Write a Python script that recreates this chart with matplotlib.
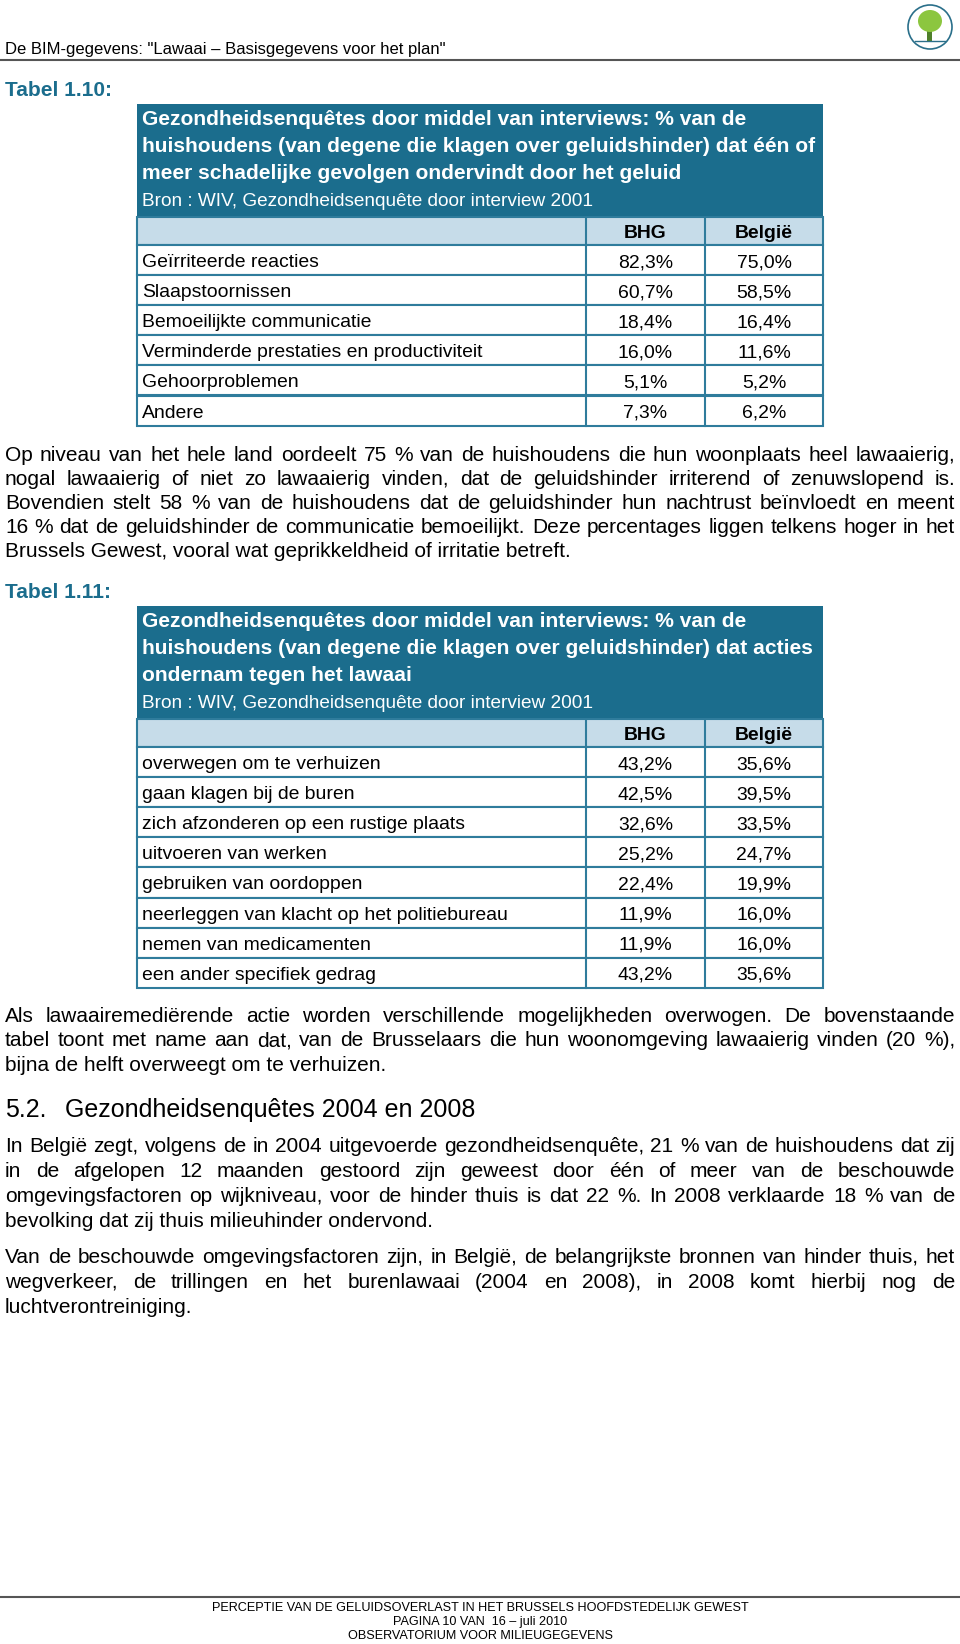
import matplotlib
matplotlib.use('Agg')
import matplotlib.pyplot as plt
from matplotlib.patches import Rectangle, Circle, Ellipse

plt.rcParams['font.family'] = ['Liberation Sans', 'DejaVu Sans']

W, H = 960, 1644
TEAL = '#1b6d8d'
LIGHT = '#c6dce9'
EDGE = '#2f7c9c'

page_header = 'De BIM-gegevens: "Lawaai – Basisgegevens voor het plan"'
col_names = ['BHG', 'België']
source = 'Bron : WIV, Gezondheidsenquête door interview 2001'

t1_label = 'Tabel 1.10:'
t1_title = ['Gezondheidsenquêtes door middel van interviews: % van de',
            'huishoudens (van degene die klagen over geluidshinder) dat één of',
            'meer schadelijke gevolgen ondervindt door het geluid']
t1_rows = ['Geïrriteerde reacties', 'Slaapstoornissen', 'Bemoeilijkte communicatie',
           'Verminderde prestaties en productiviteit', 'Gehoorproblemen', 'Andere']
t1_bhg = [82.3, 60.7, 18.4, 16.0, 5.1, 7.3]
t1_bel = [75.0, 58.5, 16.4, 11.6, 5.2, 6.2]

t2_label = 'Tabel 1.11:'
t2_title = ['Gezondheidsenquêtes door middel van interviews: % van de',
            'huishoudens (van degene die klagen over geluidshinder) dat acties',
            'ondernam tegen het lawaai']
t2_rows = ['overwegen om te verhuizen', 'gaan klagen bij de buren',
           'zich afzonderen op een rustige plaats', 'uitvoeren van werken',
           'gebruiken van oordoppen', 'neerleggen van klacht op het politiebureau',
           'nemen van medicamenten', 'een ander specifiek gedrag']
t2_bhg = [43.2, 42.5, 32.6, 25.2, 22.4, 11.9, 11.9, 43.2]
t2_bel = [35.6, 39.5, 33.5, 24.7, 19.9, 16.0, 16.0, 35.6]

para1 = ['Op niveau van het hele land oordeelt 75 % van de huishoudens die hun woonplaats heel lawaaierig,',
         'nogal lawaaierig of niet zo lawaaierig vinden, dat de geluidshinder irriterend of zenuwslopend is.',
         'Bovendien stelt 58 % van de huishoudens dat de geluidshinder hun nachtrust beïnvloedt en meent',
         '16 % dat de geluidshinder de communicatie bemoeilijkt. Deze percentages liggen telkens hoger in het',
         'Brussels Gewest, vooral wat geprikkeldheid of irritatie betreft.']
para2 = ['Als lawaairemediërende actie worden verschillende mogelijkheden overwogen. De bovenstaande',
         'tabel toont met name aan dat, van de Brusselaars die hun woonomgeving lawaaierig vinden (20 %),',
         'bijna de helft overweegt om te verhuizen.']
heading_num = '5.2.'
heading = 'Gezondheidsenquêtes 2004 en 2008'
para3 = ['In België zegt, volgens de in 2004 uitgevoerde gezondheidsenquête, 21 % van de huishoudens dat zij',
         'in de afgelopen 12 maanden gestoord zijn geweest door één of meer van de beschouwde',
         'omgevingsfactoren op wijkniveau, voor de hinder thuis is dat 22 %. In 2008 verklaarde 18 % van de',
         'bevolking dat zij thuis milieuhinder ondervond.']
para4 = ['Van de beschouwde omgevingsfactoren zijn, in België, de belangrijkste bronnen van hinder thuis, het',
         'wegverkeer, de trillingen en het burenlawaai (2004 en 2008), in 2008 komt hierbij nog de',
         'luchtverontreiniging.']
footer = ['PERCEPTIE VAN DE GELUIDSOVERLAST IN HET BRUSSELS HOOFDSTEDELIJK GEWEST',
          'PAGINA 10 VAN  16 – juli 2010',
          'OBSERVATORIUM VOOR MILIEUGEGEVENS']

fig = plt.figure(figsize=(9.6, 16.44), dpi=100)
ax = fig.add_axes([0, 0, 1, 1])
ax.set_xlim(0, W)
ax.set_ylim(H, 0)
ax.axis('off')
renderer = fig.canvas.get_renderer()


def width_px(s, size, weight='normal'):
    t = ax.text(0, 0, s, fontsize=size, fontweight=weight)
    w = t.get_window_extent(renderer).width
    t.remove()
    return w


def fit(s, target, weight='normal'):
    # font size that makes s about target px wide
    return 10 * target / width_px(s, 10, weight)


def txt(x, y, s, size, **kw):
    # y is the visual middle of the capitals; put the baseline below it
    ax.text(x, y + 0.36 * size * 100 / 72, s, fontsize=size, va='baseline', **kw)


def fmt(v):
    return f'{v:.1f}%'.replace('.', ',')


BODY = fit(para1[4], 569)
HEAD = fit(page_header, 440)
TITLE = fit(t1_title[1], 674, 'bold')
SRC = fit(source, 454)
CELL = fit(t1_rows[3], 341)
FOOT = fit(footer[0], 539)
H52 = fit(heading, 411)
LAB = fit(t1_label, 107, 'bold')


def justify(lines, y0, step, x0=5, x1=955):
    for i, line in enumerate(lines):
        y = y0 + i * step
        if i == len(lines) - 1:
            txt(x0, y, line, BODY)
            continue
        words = line.split(' ')
        ws = [width_px(w, BODY) for w in words]
        gap = (x1 - x0 - sum(ws)) / (len(words) - 1)
        x = x0
        for w, wd in zip(words, ws):
            txt(x, y, w, BODY)
            x += wd + gap


def draw_table(top, label, title, rows, bhg, bel):
    x0, d1, d2, x1 = 137, 586, 705, 823
    head_h, col_h, row_h = 113, 28, 30.1
    txt(5, top - 16, label, LAB, fontweight='bold', color=TEAL)
    ax.add_patch(Rectangle((x0, top), x1 - x0, head_h, color=TEAL, lw=0))
    for i, line in enumerate(title):
        txt(x0 + 5, top + 13 + 27 * i, line, TITLE, fontweight='bold', color='white')
    txt(x0 + 5, top + 95, source, SRC, color='white')
    y = top + head_h
    ax.add_patch(Rectangle((x0, y), x1 - x0, col_h, facecolor=LIGHT,
                           edgecolor=EDGE, lw=1.5))
    for cx, name in zip([(d1 + d2) / 2, (d2 + x1) / 2], col_names):
        txt(cx, y + col_h / 2, name, CELL, fontweight='bold', ha='center')
    ax.plot([d1, d1], [y, y + col_h], color=EDGE, lw=1.5)
    ax.plot([d2, d2], [y, y + col_h], color=EDGE, lw=1.5)
    y += col_h
    for name, a, b in zip(rows, bhg, bel):
        ax.add_patch(Rectangle((x0, y), x1 - x0, row_h, facecolor='white',
                               edgecolor=EDGE, lw=1.5))
        ax.plot([d1, d1], [y, y + row_h], color=EDGE, lw=1.5)
        ax.plot([d2, d2], [y, y + row_h], color=EDGE, lw=1.5)
        txt(x0 + 5, y + row_h / 2, name, CELL)
        txt((d1 + d2) / 2, y + row_h / 2, fmt(a), CELL, ha='center')
        txt((d2 + x1) / 2, y + row_h / 2, fmt(b), CELL, ha='center')
        y += row_h


# page header + logo
txt(5, 48, page_header, HEAD)
ax.plot([0, 960], [60, 60], color='#555555', lw=1.5)
ax.add_patch(Circle((930, 27), 22, facecolor='white', edgecolor='#2a6f8a', lw=1.2))
ax.add_patch(Rectangle((927, 27), 5, 14, color='#4f7f2a', lw=0))
ax.add_patch(Ellipse((930, 21), 24, 22, color='#8cc63f', lw=0))
ax.plot([915, 945], [41, 41], color='#2a6f8a', lw=1)

draw_table(104, t1_label, t1_title, t1_rows, t1_bhg, t1_bel)
justify(para1, 453, 24)
draw_table(606, t2_label, t2_title, t2_rows, t2_bhg, t2_bel)
justify(para2, 1014, 24.5)
txt(5, 1108, heading_num, H52)
txt(65, 1108, heading, H52)
justify(para3, 1144, 25)
justify(para4, 1255, 25)

ax.plot([0, 960], [1597, 1597], color='#555555', lw=1.5)
for i, line in enumerate(footer):
    txt(480, 1606 + 14 * i, line, FOOT, ha='center')

fig.savefig('out.png', dpi=100)
